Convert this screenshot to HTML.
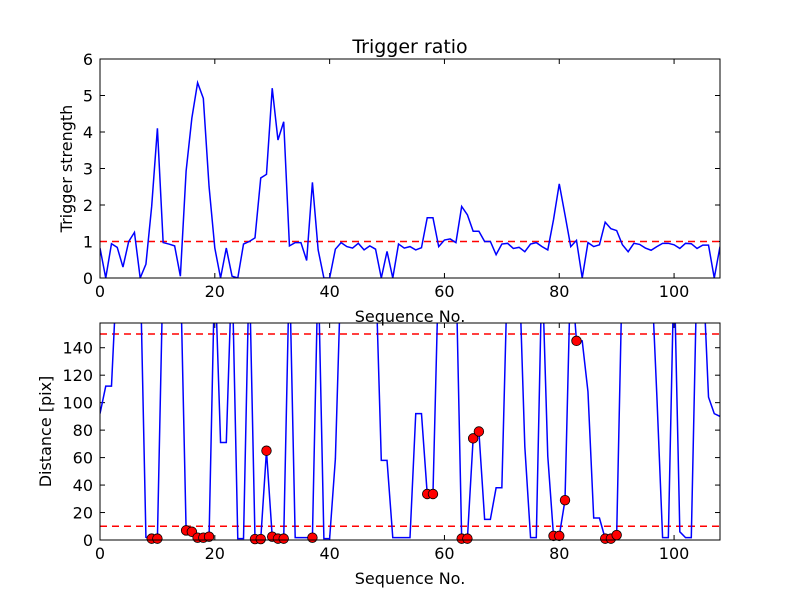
<!DOCTYPE html>
<html><head><meta charset="utf-8"><style>
body{margin:0;background:#fff}
svg text{font-family:"DejaVu Sans","Liberation Sans",sans-serif;fill:#000}
</style></head><body>
<svg id="fig" width="800" height="600" viewBox="0 0 800 600" xmlns="http://www.w3.org/2000/svg">
<rect width="800" height="600" fill="#fff"/>
<text x="410" y="53" font-size="19" text-anchor="middle">Trigger ratio</text>
<g id="top"></g>
<g id="bot"></g>
</svg>
<script>
const triggerValues=[0.82,0,0.94,0.84,0.3,1.0,1.25,0,0.38,1.96,4.1,0.97,0.93,0.88,0.05,2.93,4.38,5.35,4.92,2.5,0.82,0,0.82,0.05,0,0.93,1.0,1.1,2.74,2.84,5.2,3.78,4.28,0.88,0.97,0.97,0.48,2.62,0.77,0,0,0.79,0.97,0.86,0.82,0.95,0.77,0.88,0.79,0,0.73,0,0.93,0.82,0.86,0.77,0.83,1.65,1.65,0.86,1.04,1.07,0.97,1.96,1.73,1.28,1.28,1.0,1.0,0.64,0.93,0.95,0.81,0.84,0.72,0.93,0.97,0.86,0.77,1.6,2.58,1.73,0.86,1.03,0,0.97,0.86,0.91,1.53,1.35,1.3,0.91,0.72,0.95,0.92,0.82,0.76,0.86,0.95,0.95,0.91,0.81,0.95,0.94,0.81,0.9,0.9,0,0.86];
const distanceValues=[92,112,112,200,200,200,200,200,2,1,1,200,200,200,200,7,6,1.7,1.7,2.4,200,71,71,200,1,1,200,0.7,0.7,65,2.4,1,1,200,1.7,1.7,1.7,1.7,200,1,1,59,200,200,200,200,200,200,200,58,58,1.7,1.7,1.7,1.7,92,92,33.5,33.5,200,200,200,200,1,1,74,79,15,15,38,38,200,200,200,68,1.7,1.7,200,61,3,3,29,200,145,145,108,16,16,1,1,3.6,200,200,200,200,200,200,105,1.7,1.7,200,6,1.7,1.7,200,200,104,92,90];
const markerIndices=[9,10,15,16,17,18,19,27,28,29,30,31,32,37,57,58,63,64,65,66,79,80,81,83,88,89,90];
const xTicks=[0,20,40,60,80,100];
const topYTicks=[0,1,2,3,4,5,6];
const botYTicks=[0,20,40,60,80,100,120,140];
const triggerThreshold=[1];
const distanceThresholds=[10,150];
const NS="http://www.w3.org/2000/svg";
function mk(p,t,a){const e=document.createElementNS(NS,t);for(const k in a)e.setAttribute(k,a[k]);p.appendChild(e);return e;}
const L=100,R=720,XMAX=108;
const sx=v=>L+(R-L)*v/XMAX;
function axes(g,top,bot,ymax,yt,ylabel,id){
  const sy=v=>bot-(bot-top)*v/ymax;
  const cp=mk(g,'clipPath',{id:'c'+id});mk(cp,'rect',{x:L,y:top,width:R-L,height:bot-top});
  xTicks.forEach(t=>{const x=sx(t);
    const a=mk(g,'line',{x1:x,x2:x,y1:bot,y2:bot-5,stroke:'#000'});
    mk(g,'line',{x1:x,x2:x,y1:top,y2:top+5,stroke:'#000'});
    const tx=mk(g,'text',{x:x,y:bot+19,'font-size':16,'text-anchor':'middle'});tx.textContent=t;
    });
  yt.forEach(t=>{const y=sy(t);
    mk(g,'line',{x1:L,x2:L+5,y1:y,y2:y,stroke:'#000'});mk(g,'line',{x1:R,x2:R-5,y1:y,y2:y,stroke:'#000'});
    const tx=mk(g,'text',{x:L-7,y:y+6,'font-size':16,'text-anchor':'end'});tx.textContent=t;
    });
  const xl=mk(g,'text',{x:410,y:bot+44,'font-size':16,'text-anchor':'middle'});xl.textContent='Sequence No.';
  
  const yl=mk(g,'text',{x:0,y:0,'font-size':16,'text-anchor':'middle',transform:`translate(${id=='t'?72:51},${(top+bot)/2}) rotate(-90)`});yl.textContent=ylabel;
  
  return sy;
}
const gt=document.getElementById('top');
const syT=axes(gt,59,278,6,topYTicks,'Trigger strength','t');
const gtc=mk(gt,'g',{'clip-path':'url(#ct)'});
triggerThreshold.forEach(v=>{const l=mk(gtc,'line',{x1:L,x2:R,y1:syT(v),y2:syT(v),stroke:'#f00','stroke-width':1.5,'stroke-dasharray':'7,5'});
  });
const p1=mk(gtc,'polyline',{points:triggerValues.map((v,i)=>sx(i)+','+syT(v)).join(' '),fill:'none',stroke:'#00f','stroke-width':1.5});

const f1=mk(gt,'rect',{x:L,y:59,width:R-L,height:219,fill:'none',stroke:'#000'});


const gb=document.getElementById('bot');
const syB=axes(gb,323,540,158,botYTicks,'Distance [pix]','b');
const gbc=mk(gb,'g',{'clip-path':'url(#cb)'});
distanceThresholds.forEach(v=>{const l=mk(gbc,'line',{x1:L,x2:R,y1:syB(v),y2:syB(v),stroke:'#f00','stroke-width':1.5,'stroke-dasharray':'7,5'});
  });
const p2=mk(gbc,'polyline',{points:distanceValues.map((v,i)=>sx(i)+','+syB(v)).join(' '),fill:'none',stroke:'#00f','stroke-width':1.5});

markerIndices.forEach(i=>{const c=mk(gb,'circle',{cx:sx(i),cy:syB(distanceValues[i]),r:4.8,fill:'#f00',stroke:'#000','stroke-width':0.8});
  });
const f2=mk(gb,'rect',{x:L,y:323,width:R-L,height:217,fill:'none',stroke:'#000'});

</script>
</body></html>
